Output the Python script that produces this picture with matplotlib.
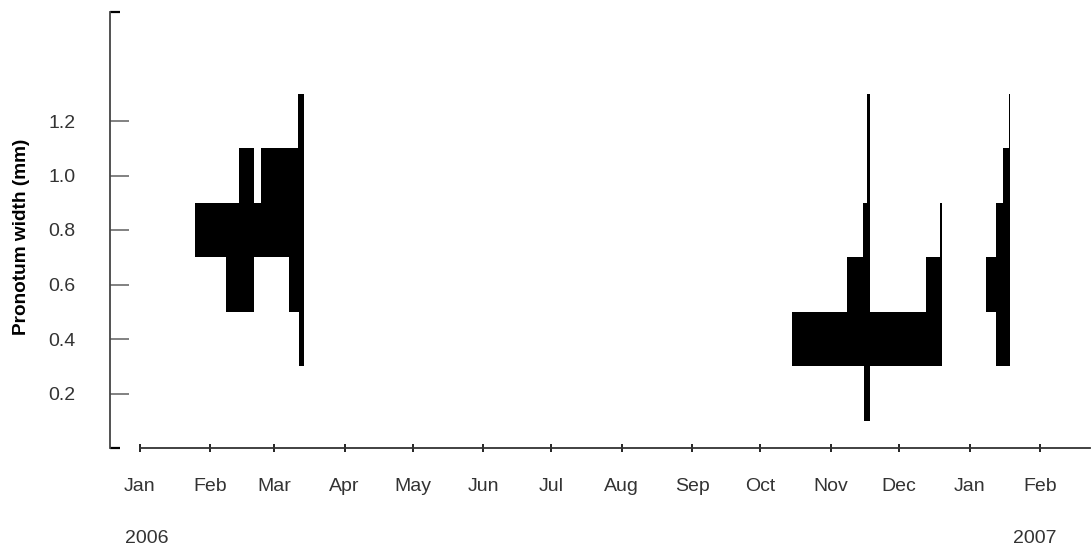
import matplotlib
matplotlib.use("Agg")
import matplotlib.pyplot as plt
import matplotlib.dates as mdates
import numpy as np
import datetime as dt

# ---- data ----
size_classes = [0.2, 0.4, 0.6, 0.8, 1.0, 1.2]          # pronotum width class centres (mm)
class_height = 0.2
sample_dates = ["2006-02-20", "2006-03-14", "2006-11-18", "2006-12-20", "2007-01-19"]
# bar length (days) for each size class, per sampling date
freq_feb20 = [0.0, 0.0, 12.1, 25.7, 6.6, 0.0]
freq_mar14 = [0.0, 2.1, 6.5, 23.0, 18.6, 2.4]
freq_nov18 = [2.5, 33.9, 10.0, 2.9, 0.9, 0.9]
freq_dec20 = [0.0, 33.0, 7.0, 1.2, 0.0, 0.0]
freq_jan19 = [0.0, 6.3, 10.7, 6.3, 3.2, 0.6]
all_freqs = [freq_feb20, freq_mar14, freq_nov18, freq_dec20, freq_jan19]

month_ticks = ["2006-01-01", "2006-02-01", "2006-03-01", "2006-04-01", "2006-05-01",
               "2006-06-01", "2006-07-01", "2006-08-01", "2006-09-01", "2006-10-01",
               "2006-11-01", "2006-12-01", "2007-01-01", "2007-02-01"]
month_labels = ["Jan", "Feb", "Mar", "Apr", "May", "Jun", "Jul", "Aug", "Sep", "Oct",
                "Nov", "Dec", "Jan", "Feb"]
year_labels = ["2006", "2007"]

# ---- figure ----
plt.rcParams['font.family'] = ['Liberation Sans', 'DejaVu Sans']
fig = plt.figure(figsize=(10.91, 5.48), dpi=100)
ax = fig.add_axes([110 / 1091, 1 - 448 / 548, 980 / 1091, 436 / 548])

def d2n(s):
    return mdates.date2num(dt.datetime.strptime(s, "%Y-%m-%d"))

for date, freqs in zip(sample_dates, all_freqs):
    x = d2n(date)
    w = np.array(freqs)
    ax.barh(size_classes, w, height=class_height, left=x - w,
            color="black", linewidth=0, align="center")

start = d2n("2006-01-01")
ax.set_xlim(start - 13.2, start + 418)
ax.set_ylim(0, 1.6)

# spines
for s in ["top", "right"]:
    ax.spines[s].set_visible(False)
ax.spines["left"].set_color("#444444")
ax.spines["left"].set_linewidth(1.3)
ax.spines["bottom"].set_color("#333333")
ax.spines["bottom"].set_linewidth(1.3)
ax.spines["bottom"].set_bounds(start, start + 418)

# y ticks
ax.set_yticks(size_classes)
ax.set_yticklabels([f"{v:.1f}" for v in size_classes])
ax.set_yticks([0.0, 1.6], minor=True)
ax.tick_params(axis="y", which="major", direction="in", length=13.7, width=1.3,
               color="#777777", labelsize=14, labelcolor="#333333", pad=25)
ax.tick_params(axis="y", which="minor", direction="in", length=7, width=1.6,
               color="black")

# x ticks
ax.set_xticks([d2n(m) for m in month_ticks])
ax.set_xticklabels(month_labels)
ax.tick_params(axis="x", which="major", direction="inout", length=5.8, width=1.2,
               color="black", labelsize=14, labelcolor="#333333", pad=19)

# year labels
ax.annotate(year_labels[0], xy=(d2n("2006-01-01"), 0), xycoords=("data", "axes fraction"),
            xytext=(7, -82), textcoords="offset pixels", ha="center", va="top",
            fontsize=14, color="#333333")
ax.annotate(year_labels[1], xy=(d2n("2007-02-01"), 0), xycoords=("data", "axes fraction"),
            xytext=(-5, -82), textcoords="offset pixels", ha="center", va="top",
            fontsize=14, color="#333333")

fig.text(22 / 1091, 1 - 236.5 / 548, "Pronotum width (mm)", rotation=90,
         ha="center", va="center", fontsize=13.7, fontweight="bold", color="black")

fig.savefig("out.png", dpi=100)
